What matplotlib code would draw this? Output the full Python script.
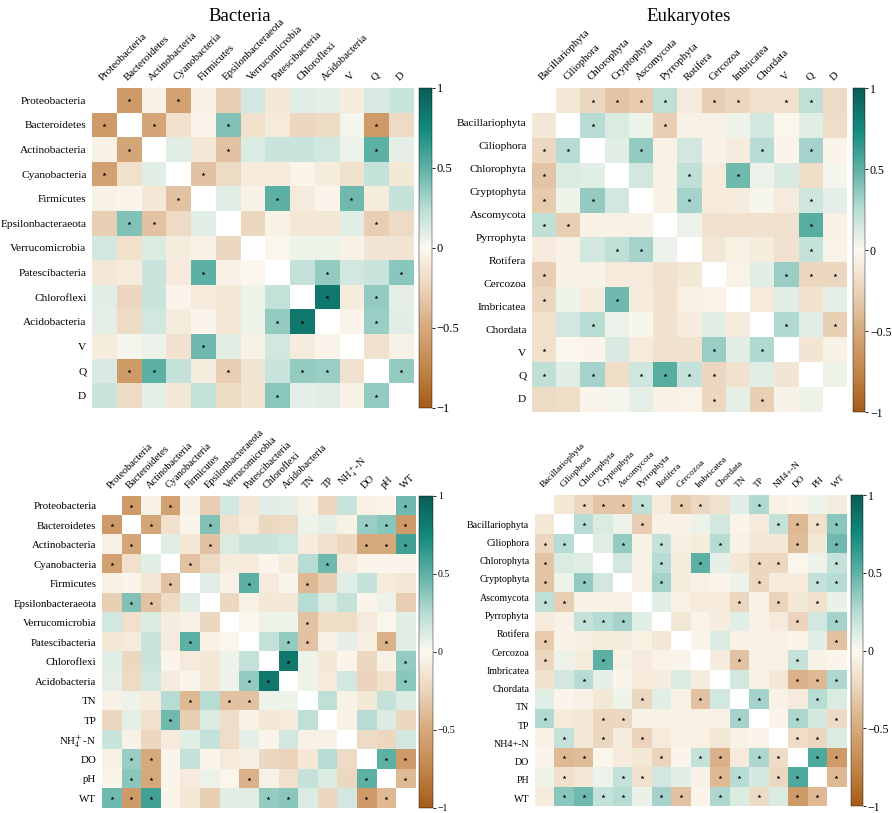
import numpy as np
import matplotlib
matplotlib.use("Agg")
import matplotlib.pyplot as plt
from matplotlib.colors import LinearSegmentedColormap

plt.rcParams['font.family'] = ['Liberation Serif', 'DejaVu Serif']
plt.rcParams['mathtext.fontset'] = 'stix'

# ---------------- data ----------------
bac_names = ["Proteobacteria", "Bacteroidetes", "Actinobacteria", "Cyanobacteria",
             "Firmicutes", "Epsilonbacteraeota", "Verrucomicrobia", "Patescibacteria",
             "Chloroflexi", "Acidobacteria"]
euk_names = ["Bacillariophyta", "Ciliophora", "Chlorophyta", "Cryptophyta", "Ascomycota",
             "Pyrrophyta", "Rotifera", "Cercozoa", "Imbricatea", "Chordata"]
hydro_names = ["V", "Q", "D"]
env_bac = ["TN", "TP", r"NH$_4^+$-N", "DO", "pH", "WT"]
env_euk = ["TN", "TP", "NH4+-N", "DO", "PH", "WT"]

# upper triangles of correlation matrices (row i, columns i+1..n-1)
bac_hydro_r = [
    [-0.6, -0.05, -0.55, -0.05, -0.28, 0.15, -0.12, 0.1, 0.08, -0.08, 0.13, 0.18],
    [-0.52, -0.17, -0.03, 0.4, -0.17, -0.1, -0.22, -0.2, 0.03, -0.6, -0.2],
    [0.1, -0.12, -0.35, 0.12, 0.18, 0.18, 0.15, 0.06, 0.5, 0.08],
    [-0.35, -0.2, -0.08, -0.1, -0.03, -0.08, -0.15, 0.2, -0.12],
    [0.1, -0.05, 0.5, -0.1, -0.03, 0.45, -0.08, 0.2],
    [-0.22, -0.05, -0.12, -0.12, 0.1, -0.28, -0.2],
    [-0.02, 0.05, 0.05, -0.05, -0.14, -0.14],
    [0.2, 0.35, 0.15, 0.18, 0.38],
    [0.85, -0.08, 0.35, 0.08],
    [-0.03, 0.33, 0.1],
    [-0.15, -0.05],
    [0.35],
]
bac_hydro_sig = [(0, 1), (0, 3), (1, 2), (1, 5), (1, 11), (2, 5), (2, 11), (3, 4), (4, 7),
                 (4, 10), (5, 11), (7, 9), (7, 12), (8, 9), (8, 11), (9, 11), (11, 12)]

euk_hydro_r = [
    [-0.12, -0.22, -0.33, -0.3, 0.22, -0.1, -0.28, -0.22, -0.17, -0.17, 0.22, -0.2],
    [0.25, 0.12, 0.05, -0.28, -0.05, -0.05, 0.05, 0.15, -0.02, 0.1, -0.18],
    [0.1, 0.35, -0.05, 0.15, -0.05, -0.08, 0.25, -0.03, 0.3, -0.03],
    [0.15, -0.05, 0.22, -0.1, 0.45, 0.06, 0.13, -0.18, 0.03],
    [-0.05, 0.3, -0.1, -0.08, 0.02, -0.1, 0.17, 0.08],
    [0.06, -0.15, -0.15, -0.15, -0.15, 0.52, -0.05],
    [-0.12, -0.06, -0.08, -0.15, 0.2, -0.04],
    [-0.04, 0.1, 0.33, -0.22, -0.22],
    [-0.1, 0.1, -0.15, 0.08],
    [0.27, 0.1, -0.27],
    [-0.13, -0.05],
    [0.05],
]
euk_hydro_sig = [(0, 2), (0, 3), (0, 4), (0, 5), (0, 7), (0, 8), (0, 10), (0, 11), (1, 2),
                 (1, 5), (2, 4), (2, 9), (2, 11), (3, 6), (3, 8), (4, 6), (4, 11), (5, 11),
                 (6, 11), (7, 10), (7, 11), (7, 12), (9, 10), (9, 12)]

bac_env_r = [
    [-0.6, -0.05, -0.55, -0.05, -0.28, 0.15, -0.12, 0.1, 0.08, -0.05, -0.22, 0.18, -0.06, -0.03, 0.45],
    [-0.52, -0.17, -0.03, 0.4, -0.17, -0.1, -0.22, -0.2, 0.05, 0.08, -0.05, 0.33, 0.38, -0.6],
    [0.1, -0.12, -0.35, 0.12, 0.18, 0.18, 0.15, -0.08, -0.17, -0.22, -0.5, -0.5, 0.6],
    [-0.35, -0.2, -0.08, -0.1, -0.03, -0.08, 0.25, 0.45, -0.1, -0.03, -0.03, -0.03],
    [0.1, -0.05, 0.5, -0.1, -0.03, -0.4, -0.28, 0.1, 0.2, -0.1, -0.12],
    [-0.22, -0.05, -0.12, -0.12, 0.25, 0.12, 0.2, -0.03, 0.06, -0.28],
    [-0.02, 0.05, 0.05, -0.35, -0.18, -0.18, -0.1, -0.02, 0.1],
    [0.2, 0.35, -0.35, -0.05, 0.08, -0.07, -0.45, 0.1],
    [0.85, 0.05, -0.12, -0.03, -0.22, -0.05, 0.35],
    [0.05, -0.1, 0.15, -0.25, -0.17, 0.38],
    [0.22, -0.05, -0.12, 0.2, 0.12],
    [-0.05, 0.25, 0.12, -0.22],
    [-0.2, -0.22, 0.15],
    [0.5, -0.6],
    [-0.4],
]
bac_env_sig = [(0, 1), (0, 3), (0, 15), (1, 2), (1, 5), (1, 13), (1, 14), (1, 15), (2, 5),
               (2, 13), (2, 14), (2, 15), (3, 4), (3, 11), (4, 7), (4, 10), (6, 10), (7, 9),
               (7, 10), (7, 14), (8, 9), (8, 15), (9, 15), (13, 14), (13, 15), (14, 15)]

euk_env_r = [
    [-0.12, -0.22, -0.33, -0.33, 0.22, -0.1, -0.3, -0.22, -0.15, 0.1, 0.27, -0.05, -0.03, 0.05, -0.08],
    [0.25, 0.12, 0.05, -0.28, -0.05, -0.05, 0.06, 0.15, -0.03, -0.1, 0.2, -0.4, -0.17, 0.38],
    [0.1, 0.35, -0.05, 0.2, -0.07, -0.08, 0.25, -0.05, -0.12, -0.12, -0.38, -0.12, 0.45],
    [0.15, -0.05, 0.25, -0.08, 0.5, 0.08, -0.12, -0.22, -0.22, -0.02, 0.06, 0.2],
    [-0.05, 0.3, -0.08, -0.05, -0.03, 0.05, -0.22, -0.08, -0.1, 0.2, 0.25],
    [0.1, -0.06, -0.1, -0.1, -0.22, -0.05, -0.25, -0.12, -0.17, 0.07],
    [-0.12, -0.04, -0.08, 0.1, -0.05, -0.1, -0.25, 0.15, 0.3],
    [-0.03, 0.12, -0.05, -0.05, -0.05, -0.03, 0.1, -0.35],
    [-0.08, -0.35, -0.05, -0.06, 0.2, -0.05, -0.03],
    [0.15, -0.05, -0.12, -0.45, -0.4, 0.28],
    [0.3, -0.05, -0.1, 0.25, 0.12],
    [-0.03, 0.28, 0.14, -0.2],
    [-0.18, -0.22, 0.12],
    [0.55, -0.6],
    [-0.4],
]
euk_env_sig = [(0, 2), (0, 3), (0, 4), (0, 5), (0, 7), (0, 8), (0, 11), (1, 2), (1, 5), (1, 12),
               (1, 13), (1, 14), (1, 15), (2, 4), (2, 6), (2, 9), (2, 13), (2, 15), (3, 6),
               (3, 8), (3, 11), (3, 12), (3, 15), (4, 6), (4, 11), (4, 14), (4, 15), (5, 10),
               (5, 12), (5, 14), (6, 13), (6, 15), (7, 15), (8, 10), (8, 13), (9, 13), (9, 14),
               (9, 15), (10, 11), (10, 14), (11, 13), (11, 15), (12, 13), (12, 14), (13, 14),
               (13, 15), (14, 15)]

cbar_ticks = [-1, -0.5, 0, 0.5, 1]
cbar_labels = ["\u22121", "\u22120.5", "0", "0.5", "1"]

# ---------------- drawing ----------------
cmap = LinearSegmentedColormap.from_list("brown_teal", [
    (0.0, "#a65b18"), (0.125, "#c2864a"), (0.25, "#d6a97c"), (0.375, "#ebd4bb"),
    (0.5, "#fcf9f0"), (0.625, "#b8ddd5"), (0.75, "#5fb1a5"), (0.875, "#128a7c"),
    (1.0, "#0b5c55")])
cmap.set_bad("white")

fig = plt.figure(figsize=(8.92, 8.13), dpi=100)


def heat(rect, crect, labels, upper, sig, ypos, fs_x, fs_y, cb_fs):
    n = len(labels)
    m = np.full((n, n), np.nan)
    for i, row in enumerate(upper):
        for k, v in enumerate(row):
            j = i + 1 + k
            m[i, j] = v
            m[j, i] = v
    ax = fig.add_axes(rect)
    im = ax.imshow(m, cmap=cmap, vmin=-1, vmax=1, aspect='auto', interpolation='nearest')
    si = [p[0] for p in sig] + [p[1] for p in sig]
    sj = [p[1] for p in sig] + [p[0] for p in sig]
    ax.scatter(sj, si, marker='*', s=9, c='k', linewidths=0, zorder=3)
    ax.xaxis.tick_top()
    ax.set_xticks(range(n))
    ax.set_xticklabels(labels, rotation=45, ha='left', va='bottom',
                       rotation_mode='anchor', fontsize=fs_x)
    ax.set_yticks(ypos)
    ax.set_yticklabels(labels, fontsize=fs_y)
    ax.tick_params(axis='both', length=0)
    ax.tick_params(axis='x', pad=4)
    ax.tick_params(axis='y', pad=4)
    for s in ax.spines.values():
        s.set_visible(False)
    ax.set_xlim(-0.5, n - 0.5)
    ax.set_ylim(n - 0.5, -0.5)
    cax = fig.add_axes(crect)
    cb = fig.colorbar(im, cax=cax, ticks=cbar_ticks)
    cb.ax.set_yticklabels(cbar_labels)
    cb.outline.set_linewidth(0.3)
    cb.ax.tick_params(labelsize=cb_fs, length=2, width=0.6, pad=1.5)
    return ax


heat([0.1031, 0.4982, 0.3599, 0.3936], [0.4697, 0.4982, 0.0146, 0.3936],
     bac_names + hydro_names, bac_hydro_r, bac_hydro_sig,
     np.arange(13), 7.8, 8.2, 9)
heat([0.5964, 0.4932, 0.3531, 0.3985], [0.9563, 0.4932, 0.0135, 0.3985],
     euk_names + hydro_names, euk_hydro_r, euk_hydro_sig,
     np.linspace(0.9, 11.95, 13), 7.8, 8.2, 8.5)
heat([0.1143, 0.0062, 0.3509, 0.3838], [0.4697, 0.0062, 0.0157, 0.3838],
     bac_names + env_bac, bac_env_r, bac_env_sig,
     np.arange(16), 7.5, 7.8, 7)
heat([0.5998, 0.0086, 0.3487, 0.3825], [0.9540, 0.0086, 0.0135, 0.3825],
     euk_names + env_euk, euk_env_r, euk_env_sig,
     np.linspace(1.0, 15.1, 16), 6.8, 7.2, 8.5)

fig.text(0.269, 0.99, "Bacteria", ha='center', va='top', fontsize=13.5)
fig.text(0.772, 0.99, "Eukaryotes", ha='center', va='top', fontsize=13.5)

fig.savefig("out.png", dpi=100)
